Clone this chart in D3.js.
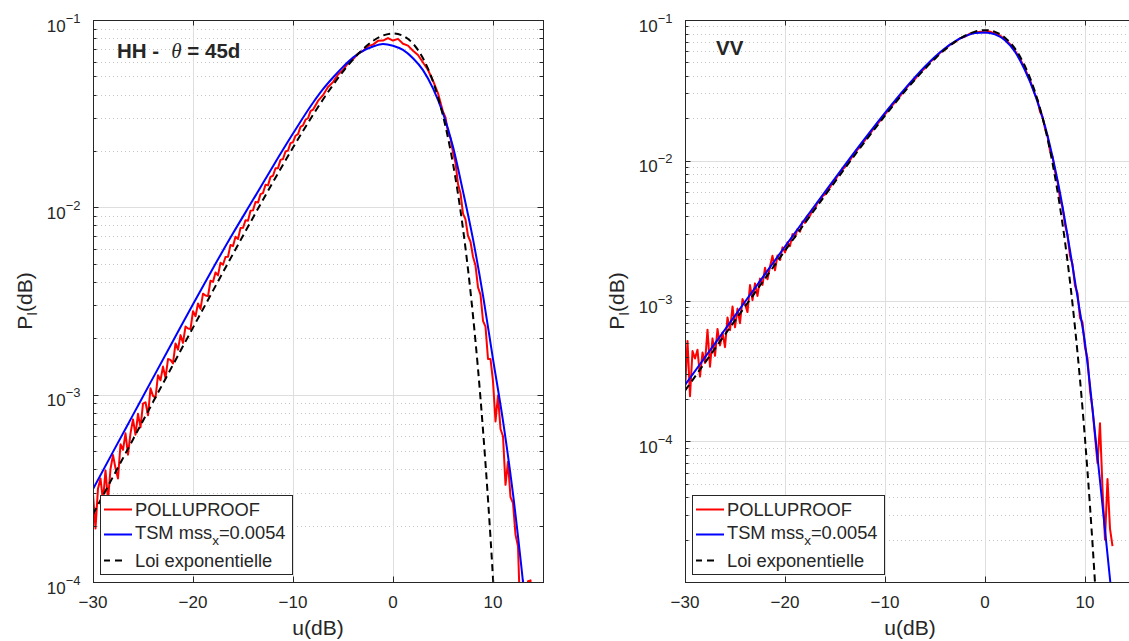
<!DOCTYPE html>
<html><head><meta charset="utf-8">
<script src="https://cdn.jsdelivr.net/npm/d3@7"></script>
<style>
body{margin:0;background:#fff}
svg{display:block}
text{font-family:"Liberation Sans",Arial,Helvetica,sans-serif;fill:#262626}
</style>
</head><body>
<svg id="c" width="1129" height="641"></svg>
<script>
// ---------------- data ----------------
const xTicks = [-30, -20, -10, 0, 10];
const yTickExpHH = [-4, -3, -2, -1];
const yTickExpVV = [-4, -3, -2, -1];
const legendLabels = ["POLLUPROOF", "TSM mss", "Loi exponentielle"];
const legendSub = "x";
const legendTail = "=0.0054";

// Loi exponentielle (same in both panels)
const uExp = [-30,-28,-26,-24,-22,-20,-18,-16,-14,-12,-10,-9,-8,-7,-6,-5,-4,-3,-2,-1,0,1,2,3,4,5,5.5,6,6.5,7,7.5,8,8.5,9,9.5,10,10.5,11,11.5];
const pExp = [2.300e-4,3.644e-4,5.769e-4,9.131e-4,1.4437e-3,2.280e-3,3.592e-3,5.640e-3,8.809e-3,1.364e-2,2.0835e-2,2.556e-2,3.1145e-2,3.763e-2,4.499e-2,5.307e-2,6.156e-2,6.991e-2,7.731e-2,8.265e-2,8.471e-2,8.232e-2,7.480e-2,6.248e-2,4.692e-2,3.082e-2,2.3512e-2,1.711e-2,1.181e-2,7.680e-3,4.679e-3,2.640e-3,1.3735e-3,6.482e-4,2.761e-4,1.0454e-4,3.454e-5,9.876e-6,2.384e-6];

// TSM HH
const uTsmHH = [-30,-28,-26,-24,-22,-20,-18,-16,-14,-12,-10,-8,-7,-6,-5,-4,-3,-2,-1,0,1,2,3,4,5,6,7,8,9,10,11,12,13,13.5];
const pTsmHH = [3.133e-4,4.95e-4,7.80e-4,1.229e-3,1.934e-3,3.041e-3,4.735e-3,7.264e-3,1.0962e-2,1.6591e-2,2.4766e-2,3.617e-2,4.271e-2,4.931e-2,5.622e-2,6.299e-2,6.833e-2,7.216e-2,7.452e-2,7.294e-2,6.926e-2,6.250e-2,5.403e-2,4.318e-2,3.183e-2,2.104e-2,1.2172e-2,6.761e-3,3.388e-3,1.549e-3,7.244e-4,2.951e-4,1.0e-4,5.50e-5];

// POLLUPROOF HH
const uPolHH = [-30,-29.75,-29.5,-29.25,-29,-28.75,-28.5,-28.25,-28,-27.75,-27.5,-27.25,-27,-26.75,-26.5,-26.25,-26,-25.75,-25.5,-25.25,-25,-24.75,-24.5,-24.25,-24,-23.75,-23.5,-23.25,-23,-22.75,-22.5,-22.25,-22,-21.75,-21.5,-21.25,-21,-20.75,-20.5,-20.25,-20,-19.75,-19.5,-19.25,-19,-18.75,-18.5,-18.25,-18,-17.75,-17.5,-17.25,-17,-16.75,-16.5,-16.25,-16,-15.75,-15.5,-15.25,-15,-14.75,-14.5,-14.25,-14,-13.75,-13.5,-13.25,-13,-12.75,-12.5,-12.25,-12,-11.75,-11.5,-11.25,-11,-10.75,-10.5,-10.25,-10,-9.75,-9.5,-9.25,-9,-8.75,-8.5,-8.25,-8,-7.5,-7,-6.5,-6,-5.5,-5,-4.5,-4,-3.5,-3,-2.5,-2,-1.5,-1,-0.5,0,0.5,1,1.5,2,2.5,3,3.5,4,4.5,5,5.25,5.5,5.75,6,6.25,6.5,6.75,7,7.25,7.5,7.75,8,8.25,8.5,8.75,9,9.25,9.5,9.75,10,10.25,10.5,10.75,11,11.25,11.5,11.75,12,12.25,12.5,12.75,13,13.25,13.5,13.75,14];
const pPolHH = [2.95e-4,1.93e-4,3.16e-4,3.57e-4,2.70e-4,3.94e-4,2.73e-4,4.01e-4,4.76e-4,4.05e-4,3.57e-4,5.44e-4,5.07e-4,6.22e-4,4.78e-4,6.21e-4,7.38e-4,6.11e-4,7.90e-4,6.69e-4,8.95e-4,9.11e-4,7.76e-4,1.081e-3,9.85e-4,9.64e-4,1.270e-3,1.194e-3,1.412e-3,1.227e-3,1.550e-3,1.533e-3,1.470e-3,1.876e-3,1.739e-3,2.079e-3,1.890e-3,2.309e-3,2.256e-3,2.241e-3,2.791e-3,2.623e-3,3.068e-3,2.870e-3,3.461e-3,3.385e-3,3.358e-3,4.056e-3,4.000e-3,4.491e-3,4.333e-3,5.065e-3,4.934e-3,5.43e-3,5.453e-3,6.302e-3,6.208e-3,6.963e-3,6.774e-3,7.746e-3,7.771e-3,8.537e-3,8.477e-3,9.600e-3,9.633e-3,1.068e-2,1.060e-2,1.176e-2,1.192e-2,1.319e-2,1.310e-2,1.454e-2,1.474e-2,1.616e-2,1.619e-2,1.792e-2,1.812e-2,1.986e-2,2.009e-2,2.201e-2,2.226e-2,2.411e-2,2.459e-2,2.688e-2,2.739e-2,2.934e-2,2.989e-2,3.264e-2,3.323e-2,3.70e-2,3.97e-2,4.39e-2,4.66e-2,5.12e-2,5.41e-2,5.89e-2,6.16e-2,6.62e-2,6.84e-2,7.25e-2,7.39e-2,7.74e-2,7.77e-2,8.01e-2,7.77e-2,7.93e-2,7.47e-2,7.30e-2,6.85e-2,6.50e-2,5.93e-2,5.41e-2,4.74e-2,4.06e-2,3.24e-2,3.02e-2,2.51e-2,2.34e-2,1.96e-2,1.73e-2,1.33e-2,1.19e-2,9.26e-3,8.62e-3,7.04e-3,6.55e-3,5.45e-3,4.89e-3,3.74e-3,3.42e-3,2.48e-3,2.31e-3,1.55e-3,1.55e-3,1.18e-3,7.2e-4,9.9e-4,6.56e-4,6.0e-4,3.3e-4,4.38e-4,2.84e-4,2.64e-4,1.79e-4,1.55e-4,6e-5,1.02e-4,6e-5,1.01e-4,1.02e-4,5e-5];

// TSM VV
const uTsmVV = [-30,-28,-26,-24,-22,-20,-18,-16,-14,-12,-10,-8,-6,-5,-4,-3,-2,-1,0,1,2,3,4,5,6,7,7.5,8,8.5,9,9.5,10,10.5,11,11.5,12,12.5,12.75];
const pTsmVV = [2.523e-4,3.977e-4,6.266e-4,9.874e-4,1.554e-3,2.443e-3,3.832e-3,5.989e-3,9.309e-3,1.435e-2,2.182e-2,3.246e-2,4.668e-2,5.482e-2,6.299e-2,7.055e-2,7.656e-2,8.073e-2,8.161e-2,7.896e-2,7.178e-2,5.939e-2,4.378e-2,2.943e-2,1.759e-2,8.82e-3,5.89e-3,3.715e-3,2.291e-3,1.380e-3,8.32e-4,5.01e-4,2.51e-4,1.148e-4,5.25e-5,2.344e-5,1.047e-5,7.08e-6];

// POLLUPROOF VV
const uPolVV = [-30,-29.75,-29.5,-29.25,-29,-28.75,-28.5,-28.25,-28,-27.75,-27.5,-27.25,-27,-26.75,-26.5,-26.25,-26,-25.75,-25.5,-25.25,-25,-24.75,-24.5,-24.25,-24,-23.75,-23.5,-23.25,-23,-22.75,-22.5,-22.25,-22,-21.75,-21.5,-21.25,-21,-20.75,-20.5,-20.25,-20,-19.75,-19.5,-19.25,-19,-18.75,-18.5,-18.25,-18,-17.75,-17.5,-17.25,-17,-16.75,-16.5,-16.25,-16,-15.75,-15.5,-15.25,-15,-14.75,-14.5,-14.25,-14,-13.75,-13.5,-13.25,-13,-12.75,-12.5,-12.25,-12,-11.75,-11.5,-11.25,-11,-10.75,-10.5,-10.25,-10,-9.75,-9.5,-9.25,-9,-8.75,-8.5,-8.25,-8,-7.5,-7,-6.5,-6,-5.5,-5,-4.5,-4,-3.5,-3,-2.5,-2,-1.5,-1,-0.5,0,0.5,1,1.5,2,2.5,3,3.5,4,4.5,5,5.25,5.5,5.75,6,6.25,6.5,6.75,7,7.25,7.5,7.75,8,8.25,8.5,8.75,9,9.25,9.5,9.75,10,10.25,10.5,10.75,11,11.25,11.5,11.75,12,12.25,12.5,12.75];
const pPolVV = [2.33e-4,5.2e-4,2.1e-4,4.4e-4,3.9e-4,4.5e-4,2.9e-4,4.3e-4,3.62e-4,6.25e-4,3.41e-4,5.42e-4,4.07e-4,6.33e-4,4.83e-4,5.96e-4,4.69e-4,7.64e-4,6.20e-4,9.14e-4,6.50e-4,8.80e-4,6.95e-4,1.032e-3,9.50e-4,8.34e-4,1.298e-3,1.014e-3,1.335e-3,1.086e-3,1.443e-3,1.301e-3,1.723e-3,1.427e-3,1.762e-3,2.097e-3,1.655e-3,2.110e-3,1.960e-3,2.408e-3,2.218e-3,2.622e-3,2.458e-3,2.993e-3,2.841e-3,3.256e-3,3.115e-3,3.681e-3,3.599e-3,4.06e-3,4.04e-3,4.50e-3,4.55e-3,5.02e-3,5.10e-3,5.58e-3,5.73e-3,6.22e-3,6.42e-3,6.93e-3,7.18e-3,7.74e-3,8.04e-3,8.63e-3,8.99e-3,9.64e-3,1.003e-2,1.074e-2,1.119e-2,1.196e-2,1.248e-2,1.332e-2,1.392e-2,1.481e-2,1.548e-2,1.644e-2,1.721e-2,1.826e-2,1.913e-2,2.028e-2,2.126e-2,2.245e-2,2.351e-2,2.481e-2,2.599e-2,2.742e-2,2.873e-2,3.030e-2,3.176e-2,3.53e-2,3.80e-2,4.23e-2,4.54e-2,5.02e-2,5.34e-2,5.85e-2,6.16e-2,6.68e-2,6.95e-2,7.42e-2,7.62e-2,8.01e-2,8.09e-2,8.24e-2,8.15e-2,8.27e-2,7.98e-2,7.76e-2,7.25e-2,6.75e-2,6.03e-2,5.31e-2,4.49e-2,3.73e-2,2.95e-2,2.70e-2,2.22e-2,2.06e-2,1.69e-2,1.50e-2,1.17e-2,1.07e-2,8.34e-3,7.13e-3,5.35e-3,4.66e-3,3.49e-3,2.96e-3,2.09e-3,1.83e-3,1.28e-3,1.14e-3,7.56e-4,7.06e-4,4.66e-4,3.9e-4,2.3e-4,1.70e-4,1.09e-4,7.0e-5,1.35e-4,4.6e-5,2.0e-5,5.4e-5,2.4e-5,1.8e-5];

// ---------------- drawing ----------------
const svg = d3.select("#c");
const defs = svg.append("defs");
const AX = "#262626";
const TOP = 20, BOT = 582, PW = 450;
const TICKF = 17, LABF = 21, LEGF = 18.3, TITF = 20.5;

function panel(cfg) {
  const L = cfg.left;
  const x = d3.scaleLinear().domain([-30, 15]).range([L, L + PW]);
  const y = d3.scaleLog().domain([cfg.yMin, 0.1]).range([BOT, TOP]);
  const g = svg.append("g");
  const cid = "clip" + cfg.id;
  defs.append("clipPath").attr("id", cid).append("rect")
    .attr("x", L).attr("y", TOP).attr("width", PW).attr("height", BOT - TOP);

  const all = y.ticks();
  const isMajor = v => Math.abs(Math.log10(v) - Math.round(Math.log10(v))) < 1e-6;
  const major = all.filter(isMajor);
  const minor = all.filter(v => !isMajor(v));
  const py = v => Math.round(y(v)) + 0.5;
  const px = v => Math.round(x(v)) + 0.5;

  // minor grid
  g.append("g").selectAll("line").data(minor).join("line")
    .attr("x1", L).attr("x2", L + PW).attr("y1", py).attr("y2", py)
    .attr("stroke", "#c4c4c4").attr("stroke-width", 1).attr("stroke-dasharray", "1,3");
  // major grid
  g.append("g").selectAll("line").data(major).join("line")
    .attr("x1", L).attr("x2", L + PW).attr("y1", py).attr("y2", py)
    .attr("stroke", "#dedede").attr("stroke-width", 1);
  g.append("g").selectAll("line").data(xTicks).join("line")
    .attr("x1", px).attr("x2", px).attr("y1", TOP).attr("y2", BOT)
    .attr("stroke", "#dedede").attr("stroke-width", 1);

  // curves
  const cg = g.append("g").attr("clip-path", `url(#${cid})`);
  const lin = d3.line().x(d => x(d[0])).y(d => y(d[1]));
  const smooth = d3.line().x(d => x(d[0])).y(d => y(d[1])).curve(d3.curveMonotoneX);
  cg.append("path").datum(d3.zip(cfg.uP, cfg.pP)).attr("d", lin)
    .attr("fill", "none").attr("stroke", "#ff0000").attr("stroke-width", 2).attr("stroke-linejoin", "round");
  cg.append("path").datum(d3.zip(cfg.uT, cfg.pT)).attr("d", smooth)
    .attr("fill", "none").attr("stroke", "#0000ff").attr("stroke-width", 2);
  cg.append("path").datum(d3.zip(uExp, pExp)).attr("d", smooth)
    .attr("fill", "none").attr("stroke", "#000000").attr("stroke-width", 2).attr("stroke-dasharray", "7,4.5");

  // axes box
  g.append("rect").attr("x", L + 0.5).attr("y", TOP + 0.5).attr("width", PW).attr("height", BOT - TOP)
    .attr("fill", "none").attr("stroke", AX).attr("stroke-width", 1);
  // ticks
  const tk = g.append("g").attr("stroke", AX).attr("stroke-width", 1);
  xTicks.forEach(v => {
    tk.append("line").attr("x1", px(v)).attr("x2", px(v)).attr("y1", BOT).attr("y2", BOT - 5.5);
    tk.append("line").attr("x1", px(v)).attr("x2", px(v)).attr("y1", TOP).attr("y2", TOP + 5.5);
  });
  major.forEach(v => {
    tk.append("line").attr("y1", py(v)).attr("y2", py(v)).attr("x1", L).attr("x2", L + 5.5);
    tk.append("line").attr("y1", py(v)).attr("y2", py(v)).attr("x1", L + PW).attr("x2", L + PW - 5.5);
  });
  minor.forEach(v => {
    tk.append("line").attr("y1", py(v)).attr("y2", py(v)).attr("x1", L).attr("x2", L + 3.5);
    tk.append("line").attr("y1", py(v)).attr("y2", py(v)).attr("x1", L + PW).attr("x2", L + PW - 3.5);
  });

  // x tick labels
  g.append("g").selectAll("text").data(xTicks).join("text")
    .attr("x", d => x(d)).attr("y", 608).attr("text-anchor", "middle")
    .attr("font-size", TICKF)
    .text(d => d < 0 ? "\u2212" + Math.abs(d) : String(d));
  // y tick labels
  cfg.yExp.forEach(e => {
    const t = g.append("text").attr("x", L - 12.5).attr("y", y(Math.pow(10, e)) + 11.5)
      .attr("text-anchor", "end").attr("font-size", TICKF);
    t.append("tspan").text("10");
    t.append("tspan").attr("dy", -9).attr("font-size", 13).text("\u2212" + Math.abs(e));
  });

  // axis labels
  g.append("text").attr("x", L + PW / 2).attr("y", 635).attr("text-anchor", "middle")
    .attr("font-size", LABF).text("u(dB)");
  const yl = g.append("text").attr("transform", `translate(${L - 61},${(TOP + BOT) / 2}) rotate(-90)`)
    .attr("text-anchor", "middle").attr("font-size", LABF);
  yl.append("tspan").text("P");
  yl.append("tspan").attr("dy", 5).attr("font-size", 14).text("I");
  yl.append("tspan").attr("dy", -5).text("(dB)");

  // title
  const tt = g.append("text").attr("x", cfg.titleX).attr("y", cfg.titleY)
    .attr("font-size", TITF).attr("font-weight", "bold").attr("fill", "#000");
  cfg.title.forEach(part => {
    const s = tt.append("tspan").text(part.t);
    if (part.dx) s.attr("dx", part.dx);
    if (part.theta) s.attr("font-family", "'Liberation Serif','Times New Roman',serif")
      .attr("font-style", "italic").attr("font-weight", "normal").attr("font-size", 21);
  });

  // legend
  const lx = L + 7, ly = 495.5;
  const lg = g.append("g");
  lg.append("rect").attr("x", lx + 0.5).attr("y", ly).attr("width", 192).attr("height", 79)
    .attr("fill", "#fff").attr("stroke", AX).attr("stroke-width", 1);
  const rows = [
    {yl: 509.5, yt: 516, color: "#ff0000", dash: null},
    {yl: 534.5, yt: 539, color: "#0000ff", dash: null},
    {yl: 560.5, yt: 567, color: "#000000", dash: "6,5,7,40"}
  ];
  rows.forEach((r, i) => {
    const ln = lg.append("line").attr("x1", lx + 4).attr("x2", lx + 32).attr("y1", r.yl).attr("y2", r.yl)
      .attr("stroke", r.color).attr("stroke-width", 2);
    if (r.dash) ln.attr("stroke-dasharray", r.dash);
    const t = lg.append("text").attr("x", lx + 35).attr("y", r.yt).attr("font-size", LEGF).attr("fill", "#000");
    t.append("tspan").text(legendLabels[i]);
    if (i === 1) {
      t.append("tspan").attr("dy", 6).attr("font-size", 13.5).text(legendSub);
      t.append("tspan").attr("dy", -6).text(legendTail);
    }
  });
}

panel({id: "HH", left: 93, yMin: 1e-4, yExp: yTickExpHH,
  uP: uPolHH, pP: pPolHH, uT: uTsmHH, pT: pTsmHH,
  titleX: 117, titleY: 58,
  title: [{t: "HH - "}, {t: "\u03b8", theta: true, dx: 6.5}, {t: " ="}, {t: " 45d"}]});
panel({id: "VV", left: 685, yMin: 1e-5, yExp: yTickExpVV,
  uP: uPolVV, pP: pPolVV, uT: uTsmVV, pT: pTsmVV,
  titleX: 716, titleY: 55,
  title: [{t: "VV"}]});
</script>
</body></html>
